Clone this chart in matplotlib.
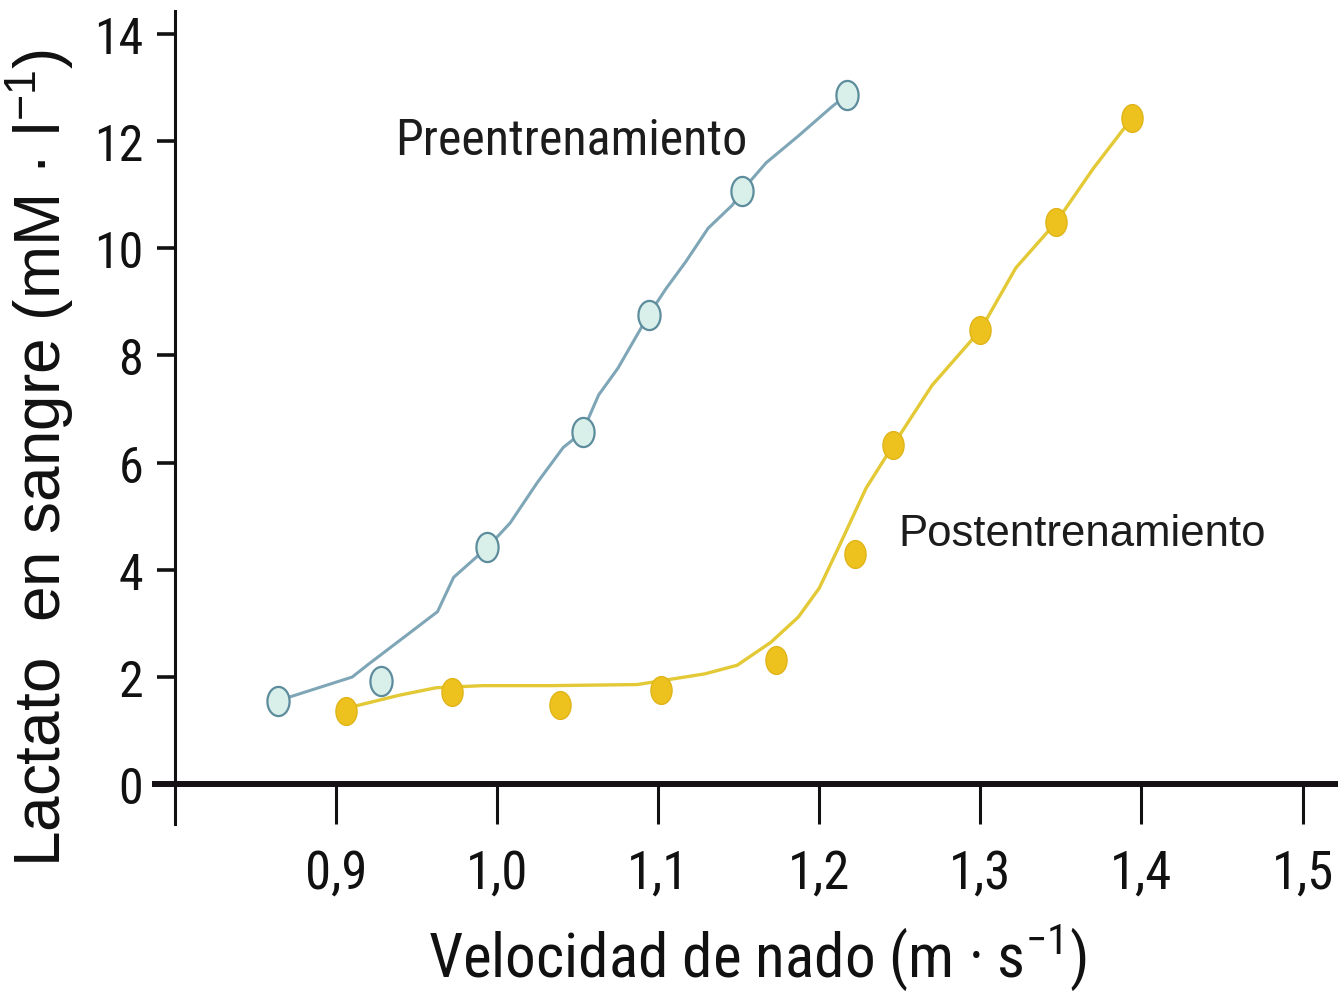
import numpy as np
import matplotlib
matplotlib.use("Agg")
import matplotlib.pyplot as plt
from matplotlib.path import Path

# Blood lactate vs. swimming speed, before and after training
# Measured points
pre_speed = [0.864, 0.928, 0.994, 1.053, 1.094, 1.152, 1.217]
pre_lactate = [1.55, 1.92, 4.42, 6.57, 8.75, 11.07, 12.85]

post_speed = [0.906, 0.972, 1.039, 1.102, 1.173, 1.222, 1.246, 1.300, 1.347, 1.394]
post_lactate = [1.36, 1.72, 1.48, 1.76, 2.31, 4.29, 6.33, 8.47, 10.48, 12.42]

# Hand-drawn trend curves
pre_curve_x = [0.864, 0.910, 0.921, 0.946, 0.963, 0.973, 0.994, 1.008, 1.025, 1.041,
               1.053, 1.063, 1.075, 1.094, 1.105, 1.117, 1.131, 1.146, 1.152, 1.167,
               1.187, 1.208, 1.217]
pre_curve_y = [1.56, 2.00, 2.26, 2.83, 3.22, 3.86, 4.42, 4.87, 5.63, 6.28,
               6.57, 7.26, 7.76, 8.75, 9.25, 9.74, 10.37, 10.80, 11.07, 11.59,
               12.09, 12.64, 12.85]

post_curve_x = [0.906, 0.912, 0.939, 0.962, 0.991, 1.033, 1.087, 1.129, 1.149, 1.170,
                1.187, 1.200, 1.212, 1.229, 1.246, 1.270, 1.300, 1.322, 1.347, 1.370,
                1.394]
post_curve_y = [1.36, 1.46, 1.66, 1.80, 1.84, 1.84, 1.86, 2.06, 2.22, 2.65,
                3.12, 3.66, 4.42, 5.52, 6.33, 7.44, 8.47, 9.63, 10.48, 11.48,
                12.42]

x_ticks = [0.9, 1.0, 1.1, 1.2, 1.3, 1.4, 1.5]
x_tick_labels = ["0,9", "1,0", "1,1", "1,2", "1,3", "1,4", "1,5"]
y_ticks = [0, 2, 4, 6, 8, 10, 12, 14]
y_tick_labels = ["0", "2", "4", "6", "8", "10", "12", "14"]

NARROW = ["Roboto Condensed", "Archivo Narrow", "Liberation Sans", "DejaVu Sans"]
REGULAR = ["Liberation Sans", "DejaVu Sans"]

plt.rcParams["font.family"] = NARROW
plt.rcParams["mathtext.default"] = "regular"

PRE_LINE = "#7ea6b6"
PRE_FILL = "#d9efea"
PRE_EDGE = "#5d8c9c"
POST_LINE = "#e3c936"
POST_FILL = "#eec21e"

fig = plt.figure(figsize=(13.38, 10.03), dpi=100)
ax = fig.add_axes([155 / 1338, 1 - 825 / 1003, 1183 / 1338, (825 - 12) / 1003])

# slightly tall elliptical marker
t = np.linspace(0, 2 * np.pi, 64)
oval = Path(np.column_stack([0.76 * np.cos(t), np.sin(t)]), closed=True)

ax.plot(pre_curve_x, pre_curve_y, color=PRE_LINE, lw=2.2, zorder=2,
        solid_capstyle="round", solid_joinstyle="round")
ax.plot(post_curve_x, post_curve_y, color=POST_LINE, lw=2.4, zorder=2,
        solid_capstyle="round", solid_joinstyle="round")
ax.plot(pre_speed, pre_lactate, linestyle="none", marker=oval, markersize=21,
        markerfacecolor=PRE_FILL, markeredgecolor=PRE_EDGE, markeredgewidth=1.6,
        zorder=3)
ax.plot(post_speed, post_lactate, linestyle="none", marker=oval, markersize=20,
        markerfacecolor=POST_FILL, markeredgecolor="#e0b418", markeredgewidth=1.0,
        zorder=3)

ax.text(0.9366, 11.76, "Preentrenamiento", fontsize=36, family=NARROW,
        color="#1c1c1c", va="baseline", ha="left")
ax.text(1.249, 4.46, "Postentrenamiento", fontsize=31.5, family=REGULAR,
        color="#1c1c1c", va="baseline", ha="left")

ax.set_xlim(0.7876, 1.522)
ax.set_ylim(-0.74, 14.42)

for side in ("top", "right"):
    ax.spines[side].set_visible(False)
ax.spines["left"].set_position(("data", 0.8))
ax.spines["left"].set_linewidth(2.2)
ax.spines["left"].set_color("#111111")
ax.spines["bottom"].set_position(("data", 0))
ax.spines["bottom"].set_linewidth(4.3)
ax.spines["bottom"].set_color("#141014")

ax.set_xticks(x_ticks)
ax.set_xticklabels(x_tick_labels)
ax.set_yticks(y_ticks)
ax.set_yticklabels(y_tick_labels)
ax.tick_params(axis="x", direction="out", length=28.5, width=2.2, pad=17,
               labelsize=38, colors="#111111")
ax.tick_params(axis="y", direction="out", length=13, width=2.6, pad=10,
               labelsize=36, colors="#111111")

fig.text(757 / 1338, 1 - 977 / 1003, "Velocidad de nado (m · s$^{-1}$)",
         fontsize=44, family=NARROW, ha="center", va="baseline", color="#111111")
fig.text(40 / 1338, 1 - 458 / 1003, "Lactato  en sangre (mM · l$^{-1}$)",
         fontsize=46, family=REGULAR, ha="center", va="center", rotation=90,
         color="#111111")

fig.savefig("out.png", dpi=100, facecolor="white")
